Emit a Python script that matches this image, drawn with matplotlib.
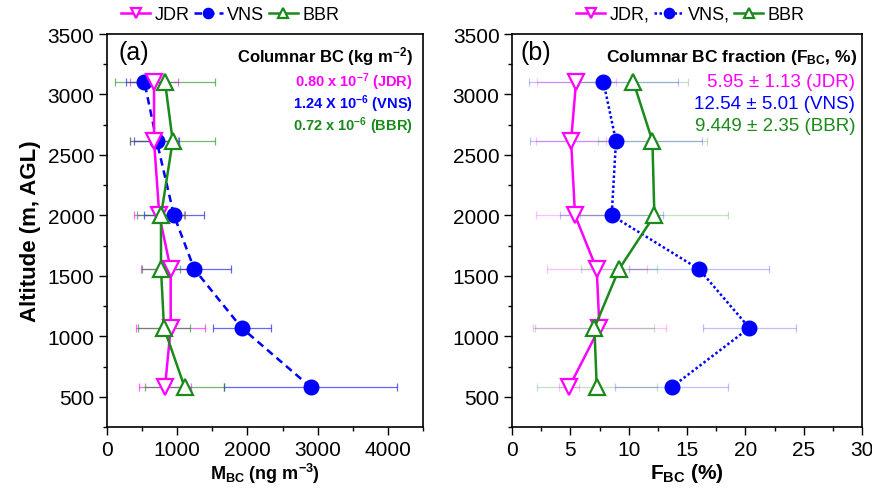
import matplotlib
matplotlib.use("Agg")
import matplotlib.pyplot as plt
from matplotlib.ticker import MultipleLocator

plt.rcParams['font.family'] = ['Liberation Sans', 'DejaVu Sans']
plt.rcParams['mathtext.fontset'] = 'custom'
plt.rcParams['mathtext.rm'] = 'Liberation Sans'
plt.rcParams['mathtext.bf'] = 'Liberation Sans:bold'
plt.rcParams['mathtext.it'] = 'Liberation Sans:italic'

# sampling altitudes (m, AGL)
alt = [580, 1070, 1555, 2000, 2615, 3105]

# BC mass concentration (ng m-3)
jdr_m = [826, 907, 907, 745, 670, 670]
jdr_m_err = [366, 487, 427, 356, 340, 340]
vns_m = [2900, 1918, 1244, 954, 708, 532]
vns_m_err = [1228, 415, 522, 428, 318, 257]
bbr_m = [1105, 812, 769, 769, 936, 826]
bbr_m_err = [568, 377, 266, 340, 602, 717]

# BC mass fraction (%)
jdr_f = [4.89, 7.49, 7.26, 5.40, 5.06, 5.49]
jdr_f_err = [0.85, 5.7, 4.29, 3.34, 3.0, 3.38]
vns_f = [13.69, 20.34, 16.03, 8.54, 8.91, 7.83]
vns_f_err = [4.86, 4.0, 6.0, 4.43, 7.35, 6.38]
bbr_f = [7.26, 7.06, 9.17, 12.2, 12.03, 10.4]
bbr_f_err = [5.15, 5.1, 3.27, 6.34, 4.7, 4.7]

col_mass = [r'0.80 x 10$^{\mathbf{-7}}$ (JDR)', r'1.24 X 10$^{\mathbf{-6}}$ (VNS)',
            r'0.72 x 10$^{\mathbf{-6}}$ (BBR)']
col_frac = ['5.95 ± 1.13 (JDR)', '12.54 ± 5.01 (VNS)', '9.449 ± 2.35 (BBR)']

PINK = '#ff00ff'
BLUE = '#0000ff'
GREEN = '#1a8a1a'

fig = plt.figure(figsize=(8.72, 4.89), dpi=100)
ax1 = fig.add_axes([0.1227, 0.1247, 0.3624, 0.8037])
ax2 = fig.add_axes([0.5872, 0.1247, 0.4014, 0.8037])


def draw_panel(ax, jx, je, vx, ve, bx, be, vns_ls, err_alpha, labels, leg_x):
    for x, e, c in [(jx, je, PINK), (vx, ve, BLUE), (bx, be, GREEN)]:
        ax.errorbar(x, alt, xerr=e, fmt='none', ecolor=c, elinewidth=0.9,
                    capsize=3, capthick=0.9, alpha=err_alpha, zorder=1)
    ax.plot(jx, alt, '-', color=PINK, lw=1.8, marker='v', ms=11,
            mfc='white', mec=PINK, mew=1.6, label=labels[0], zorder=3)
    ax.plot(vx, alt, linestyle=vns_ls, color=BLUE, lw=1.8, marker='o', ms=10.5,
            mfc=BLUE, mec=BLUE, label=labels[1], zorder=2)
    ax.plot(bx, alt, '-', color=GREEN, lw=1.8, marker='^', ms=11,
            mfc='white', mec=GREEN, mew=1.6, label=labels[2], zorder=3)
    ax.set_ylim(250, 3500)
    ax.yaxis.set_major_locator(MultipleLocator(500))
    ax.yaxis.set_minor_locator(MultipleLocator(250))
    ax.tick_params(which='major', direction='out', length=6, width=1,
                   labelsize=15, pad=3)
    ax.tick_params(which='minor', direction='out', length=3, width=1)
    for s in ax.spines.values():
        s.set_linewidth(1.2)
    ax.legend(loc='center', bbox_to_anchor=(leg_x, 1.05), ncol=3,
              frameon=False, fontsize=13, handlelength=1.6,
              handletextpad=0.25, columnspacing=0.25, markerscale=0.7,
              borderaxespad=0)


draw_panel(ax1, jdr_m, jdr_m_err, vns_m, vns_m_err, bbr_m, bbr_m_err,
           (0, (3, 2)), 0.6, ['JDR', 'VNS', 'BBR'], 0.39)
ax1.set_xlim(0, 4500)
ax1.xaxis.set_minor_locator(MultipleLocator(500))
ax1.set_xticks([0, 1000, 2000, 3000, 4000])
ax1.set_xlabel(r'$\mathbf{M_{BC}}$ (ng m$^{\mathbf{-3}}$)', fontsize=13,
               fontweight='bold', labelpad=2)
ax1.set_ylabel('Altitude (m, AGL)', fontsize=16, fontweight='bold', labelpad=5)
ax1.text(0.035, 0.985, '(a)', transform=ax1.transAxes, fontsize=18,
         ha='left', va='top')
ax1.text(0.968, 0.944, r'Columnar BC (kg m$^{\mathbf{-2}}$)',
         transform=ax1.transAxes, fontsize=12, fontweight='bold',
         ha='right', va='center')
for i, (t, c) in enumerate(zip(col_mass, [PINK, BLUE, GREEN])):
    ax1.text(0.968, 0.880 - 0.056 * i, t, transform=ax1.transAxes,
             fontsize=10.5, fontweight='bold', color=c, ha='right', va='center')

draw_panel(ax2, jdr_f, jdr_f_err, vns_f, vns_f_err, bbr_f, bbr_f_err,
           (0, (1, 1)), 0.25, ['JDR,', 'VNS,', 'BBR'], 0.51)
ax2.set_xlim(0, 30)
ax2.xaxis.set_major_locator(MultipleLocator(5))
ax2.xaxis.set_minor_locator(MultipleLocator(2.5))
ax2.set_xlabel(r'$\mathbf{F_{BC}}$ $\mathbf{(\%)}$', fontsize=15,
               fontweight='bold', labelpad=2)
ax2.text(0.023, 0.985, '(b)', transform=ax2.transAxes, fontsize=18,
         ha='left', va='top')
ax2.text(0.985, 0.944, r'Columnar BC fraction ($\mathbf{F_{BC}}$, %)',
         transform=ax2.transAxes, fontsize=12.5, fontweight='bold',
         ha='right', va='center')
for i, (t, c) in enumerate(zip(col_frac, [PINK, BLUE, GREEN])):
    ax2.text(0.98, 0.880 - 0.056 * i, t, transform=ax2.transAxes,
             fontsize=13.5, color=c, ha='right', va='center')

fig.savefig('out.png', dpi=100)
